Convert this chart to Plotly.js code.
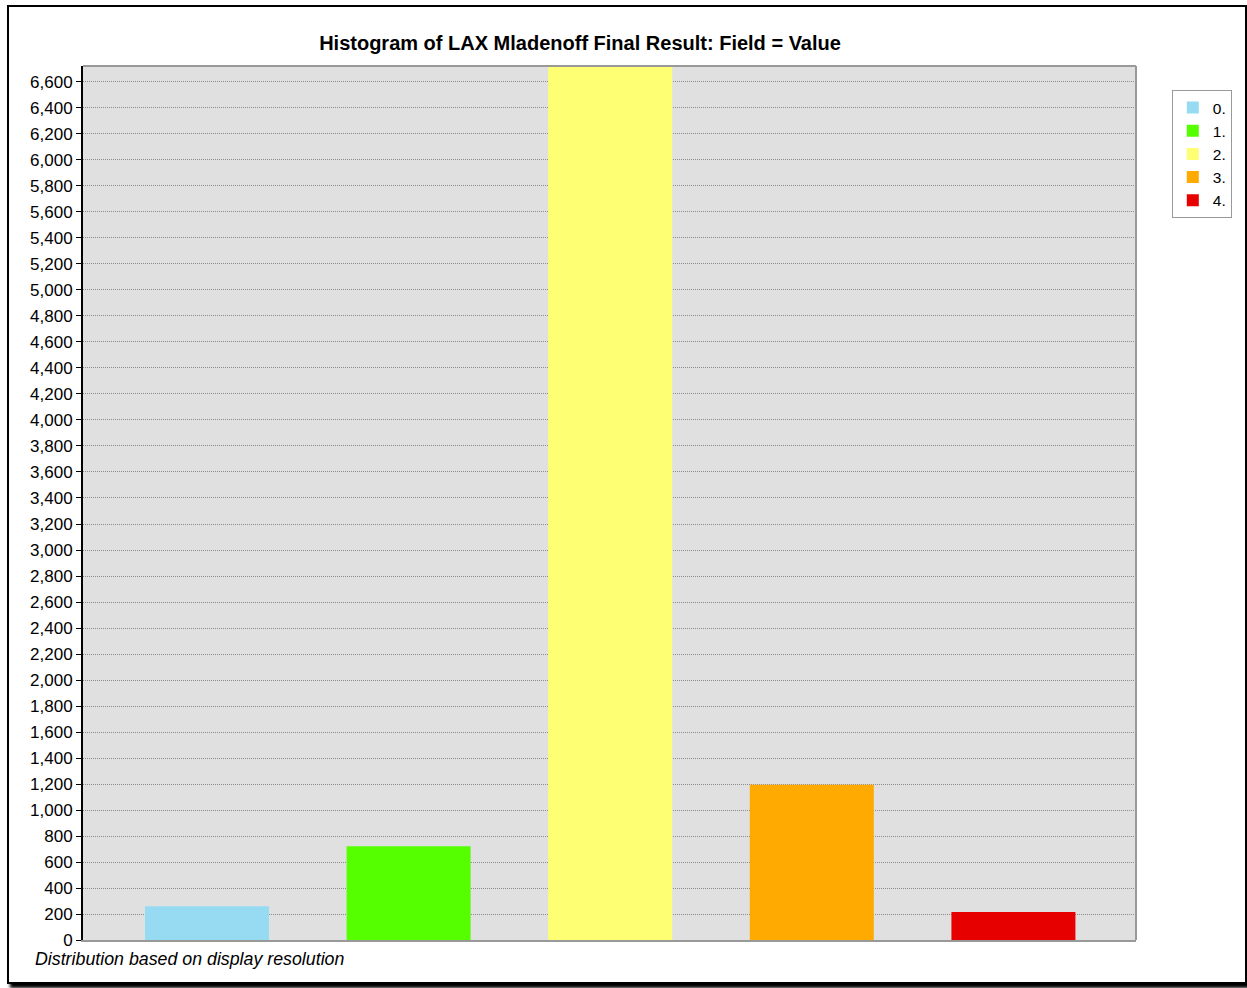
<!DOCTYPE html>
<html><head><meta charset="utf-8">
<script src="https://cdn.plot.ly/plotly-3.0.1.min.js"></script>
<style>
html,body{margin:0;padding:0;background:#fff;}
#frame{position:absolute;left:7px;top:5px;width:1236px;height:975px;border:2px solid #000;box-shadow:3px 4px 3px #000;background:#fff;}
#chart{width:1236px;height:975px;}
</style></head>
<body><div id="frame"><div id="chart"></div></div>
<script>
const categories = ["0.", "1.", "2.", "3.", "4."];
const positions = [0, 1, 2, 3, 4];
const counts = [260, 722, 6720, 1195, 215];
const colors = ["#97dbf2", "#55ff00", "#ffff73", "#ffaa00", "#e60000"];
const yTicks = [];
for (let v = 0; v <= 6600; v += 200) yTicks.push(v);
const yTickText = yTicks.map(v => v.toLocaleString("en-US"));

const traces = categories.map((c, i) => ({
  type: "bar",
  name: c,
  x: [positions[i]],
  y: [counts[i]],
  width: 0.615,
  marker: {color: colors[i], line: {width: 0}},
  hoverinfo: "y"
}));

const layout = {
  width: 1236, height: 975,
  margin: {l: 74, r: 109, t: 59, b: 42},
  paper_bgcolor: "#fff",
  plot_bgcolor: "#e0e0e0",
  font: {family: "Liberation Sans, Arial, sans-serif", size: 15, color: "#000"},
  title: {text: "<b>Histogram of LAX Mladenoff Final Result: Field = Value</b>",
          font: {family: "Liberation Sans, Arial, sans-serif", size: 20, color: "#000"},
          x: 0.462, xanchor: "center", y: 0.963, yanchor: "middle"},
  showlegend: true,
  legend: {x: 1.034, xanchor: "left", y: 0.9725, yanchor: "top",
           bordercolor: "#999", borderwidth: 1, bgcolor: "#fff",
           font: {size: 15.5, color: "#000"}, itemwidth: 30, tracegroupgap: 0},
  xaxis: {range: [-0.615, 4.608], showticklabels: false, ticks: "", showgrid: false,
          zeroline: false, showline: true, linecolor: "#999", linewidth: 2, mirror: false, fixedrange: true},
  yaxis: {range: [0, 6723], tickvals: yTicks, ticktext: yTickText, ticks: "outside",
          ticklen: 5, tickcolor: "#000", tickwidth: 1, showline: true, linecolor: "#000", linewidth: 2,
          showgrid: true, gridcolor: "#8c8c8c", griddash: "1px,1px", gridwidth: 1, zeroline: false,
          tickfont: {size: 17}, fixedrange: true},
  shapes: [
    {type: "line", xref: "paper", yref: "paper", x0: 0, x1: 1, y0: 1, y1: 1, line: {color: "#999", width: 2}, layer: "above"},
    {type: "line", xref: "paper", yref: "paper", x0: 1, x1: 1, y0: 0, y1: 1, line: {color: "#999", width: 2}, layer: "above"}
  ],
  annotations: [
    {text: "<i>Distribution based on display resolution</i>", xref: "paper", yref: "paper",
     x: -0.0475, y: -0.0217, xanchor: "left", yanchor: "middle", showarrow: false,
     font: {size: 17.8, color: "#000"}}
  ]
};
Plotly.newPlot("chart", traces, layout, {displayModeBar: false, staticPlot: true});
</script></body></html>
